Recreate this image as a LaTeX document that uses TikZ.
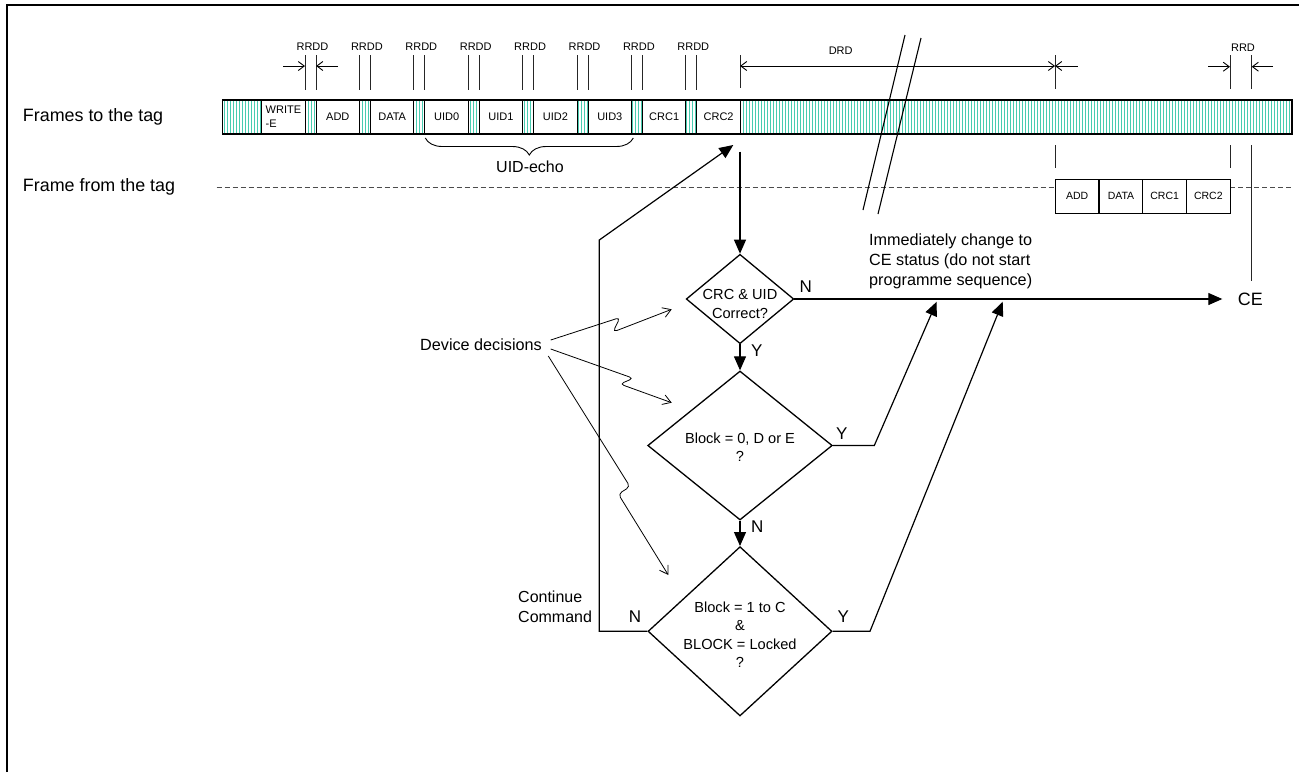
\documentclass[tikz,border=0pt]{standalone}
\usepackage{fontspec}
\setmainfont{Liberation Sans}
\usetikzlibrary{shapes.geometric,arrows.meta,decorations.pathreplacing}
\definecolor{hatch}{RGB}{72,204,176}
\begin{document}
\begin{tikzpicture}[x=1pt,y=-1pt]
\tikzset{
 fbox/.style={draw, line width=1.1pt, fill=white, minimum width=43.4pt, minimum height=34pt, inner sep=0pt, font=\fontsize{11}{14}\selectfont, align=center},
 tbox/.style={fbox, minimum width=43.75pt, minimum height=34.3pt, font=\fontsize{10.5}{13}\selectfont},
 dia/.style={draw, diamond, line width=1.3pt, inner sep=0pt},
 flow/.style={line width=1.2pt, -{Triangle[length=14pt,width=12pt]}},
 mk/.style={line width=1pt, draw=black!85},
 dimarrow/.style={line width=0.9pt, -{Straight Barb[length=6pt,width=9pt]}},
 sq/.style={line width=0.8pt, rounded corners=4pt, -{Straight Barb[length=8pt,width=10pt]}},
 bigtxt/.style={font=\fontsize{17.9}{21}\selectfont},
 midtxt/.style={font=\fontsize{16.2}{20.4}\selectfont},
 dtxt/.style={font=\fontsize{14.6}{18.4}\selectfont, align=center, inner sep=0pt},
 yn/.style={font=\fontsize{17}{20}\selectfont, inner sep=0pt},
 smalltxt/.style={font=\fontsize{11}{13}\selectfont, inner sep=0pt},
}
\useasboundingbox (0,0) rectangle (1299,772);
% frame border
\draw[line width=2pt] (7,772) -- (7,5) -- (1299,5);

% row labels
\node[bigtxt, anchor=west, inner sep=0pt] (lto) at (22.7,117) {Frames to the tag};
\node[bigtxt, anchor=west, inner sep=0pt] (lfrom) at (22.7,187) {Frame from the tag};

% hatched bar
\foreach \x in {224,227,...,1291} \draw[hatch, line width=0.8pt] (\x,100.5) -- (\x,133.5);
\draw[line width=1.1pt] (222.7,100) rectangle (1292,134);

% frames to the tag
\node[fbox, align=left] (wr) at (283.4,117) {WRITE\\-E};
\node[fbox] (add) at (337.8,117) {ADD};
\node[fbox] (data) at (392.2,117) {DATA};
\node[fbox] (uid0) at (446.6,117) {UID0};
\node[fbox] (uid1) at (501.0,117) {UID1};
\node[fbox] (uid2) at (555.4,117) {UID2};
\node[fbox] (uid3) at (609.8,117) {UID3};
\node[fbox] (crc1) at (664.2,117) {CRC1};
\node[fbox] (crc2) at (718.6,117) {CRC2};

% RRDD markers
\foreach \k in {0,...,7}{
  \pgfmathsetmacro{\a}{305+54.4*\k}
  \pgfmathsetmacro{\b}{316.1+54.4*\k}
  \pgfmathsetmacro{\c}{312.5+54.4*\k}
  \draw[mk] (\a,55) -- (\a,90);
  \draw[mk] (\b,55) -- (\b,90);
  \node[smalltxt] (rrdd\k) at (\c,47) {RRDD};
}
\draw[dimarrow] (283,66) -- (305,66);
\draw[dimarrow] (338,66) -- (316.1,66);

% DRD
\node[smalltxt] (drd) at (840.7,50.7) {DRD};
\draw[mk] (740,55) -- (740,88);
\draw[mk] (1055,55) -- (1055,89);
\draw[mk] (1230,55) -- (1230,89);
\draw[mk] (1251.7,55) -- (1251.7,89);
\draw[line width=0.9pt, {Straight Barb[length=6pt,width=9pt]}-{Straight Barb[length=6pt,width=9pt]}] (740,66) -- (1055,66);
\draw[dimarrow] (1077.7,66) -- (1055,66);
\node[smalltxt] (rrd) at (1243,47.7) {RRD};
\draw[dimarrow] (1208,66.7) -- (1230,66.7);
\draw[dimarrow] (1273,66.7) -- (1251.7,66.7);

% frame from the tag
\draw[line width=1pt, black!70, dash pattern=on 5pt off 3pt] (216.7,187) -- (1055,187);
\draw[line width=1pt, black!70, dash pattern=on 5pt off 3pt] (1230,187) -- (1293,187);
\node[tbox] (tadd) at (1077.1,196.2) {ADD};
\node[tbox] (tdata) at (1121,196.2) {DATA};
\node[tbox] (tcrc1) at (1164.7,196.2) {CRC1};
\node[tbox] (tcrc2) at (1208.35,196.2) {CRC2};
\draw[mk] (1055,145) -- (1055,167.7);
\draw[mk] (1230,145) -- (1230,167.7);
\draw[mk] (1251.7,145) -- (1251.7,281);

% break mark
\draw[line width=1.1pt] (905,35) -- (863,210);
\draw[line width=1.1pt] (921,38) -- (878,214);

% UID-echo brace
\draw[line width=0.9pt, decorate, decoration={brace, mirror, amplitude=17pt}] (425.3,138) -- (633.3,138);
\node[font=\fontsize{16}{19}\selectfont, inner sep=0pt] (echo) at (530,166.7) {UID-echo};

% decisions
\node[dia, minimum width=107.6pt, minimum height=89.4pt] (d1) at (740,299) {};
\node[dia, minimum width=184.6pt, minimum height=149pt] (d2) at (740,445.5) {};
\node[dia, minimum width=184pt, minimum height=169.3pt] (d3) at (740,631.3) {};
\node[dtxt] (t1) at (740,304) {CRC \& UID\\Correct?};
\node[dtxt] (t2) at (740,447.5) {Block = 0, D or E\\?};
\node[dtxt] (t3) at (740,634.8) {Block = 1 to C\\\&\\BLOCK = Locked\\?};

% flow connectors
\coordinate (v0) at (740,151.7);
\draw[flow] (v0) -- (d1.north);
\draw[flow] (d1.south) -- (d2.north);
\draw[flow] (d2.south) -- (d3.north);
\node[bigtxt, anchor=west, inner sep=0pt] (ce) at (1237.7,299.3) {CE};
\coordinate (ceTip) at (1222.3,299);
\draw[flow] (d1.east) -- (ceTip);
\coordinate (k1) at (874.3,445.5);
\coordinate (tip1) at (936.7,301.7);
\draw[flow] (d2.east) -- (k1) -- (tip1);
\coordinate (k2) at (870,631.3);
\coordinate (tip2) at (1002.7,301.7);
\draw[flow] (d3.east) -- (k2) -- (tip2);
\coordinate (c1) at (599.3,631.3);
\coordinate (c2) at (599.3,240);
\coordinate (c3) at (733.3,145);
\draw[flow] (d3.west) -- (c1) -- (c2) -- (c3);

% Y / N labels
\node[yn] (n1) at (805.7,286.7) {N};
\node[yn] (y1) at (756.7,350.7) {Y};
\node[yn] (y2) at (841.7,433.3) {Y};
\node[yn] (n2) at (757.3,526.7) {N};
\node[yn] (n3) at (635,616.7) {N};
\node[yn] (y3) at (843.3,616.7) {Y};

\node[midtxt, anchor=west, align=left, inner sep=0pt] (imm) at (869,261.3) {Immediately change to\\CE status (do not start\\programme sequence)};
\node[font=\fontsize{16}{20}\selectfont, anchor=west, align=left, inner sep=0pt] (cont) at (518,607) {Continue\\Command};

% device decisions
\node[midtxt, anchor=west, inner sep=0pt] (dev) at (420,345) {Device decisions};
\draw[sq] (550.7,340) -- (620,317.5) -- (613,332) -- (671.7,309.3);
\draw[sq] (550.7,349) -- (633.3,378.3) -- (620,384) -- (671.7,402.7);
\draw[sq] (548.3,356) -- (630,486.7) -- (618.3,494) -- (668.3,575);
\end{tikzpicture}
\end{document}
